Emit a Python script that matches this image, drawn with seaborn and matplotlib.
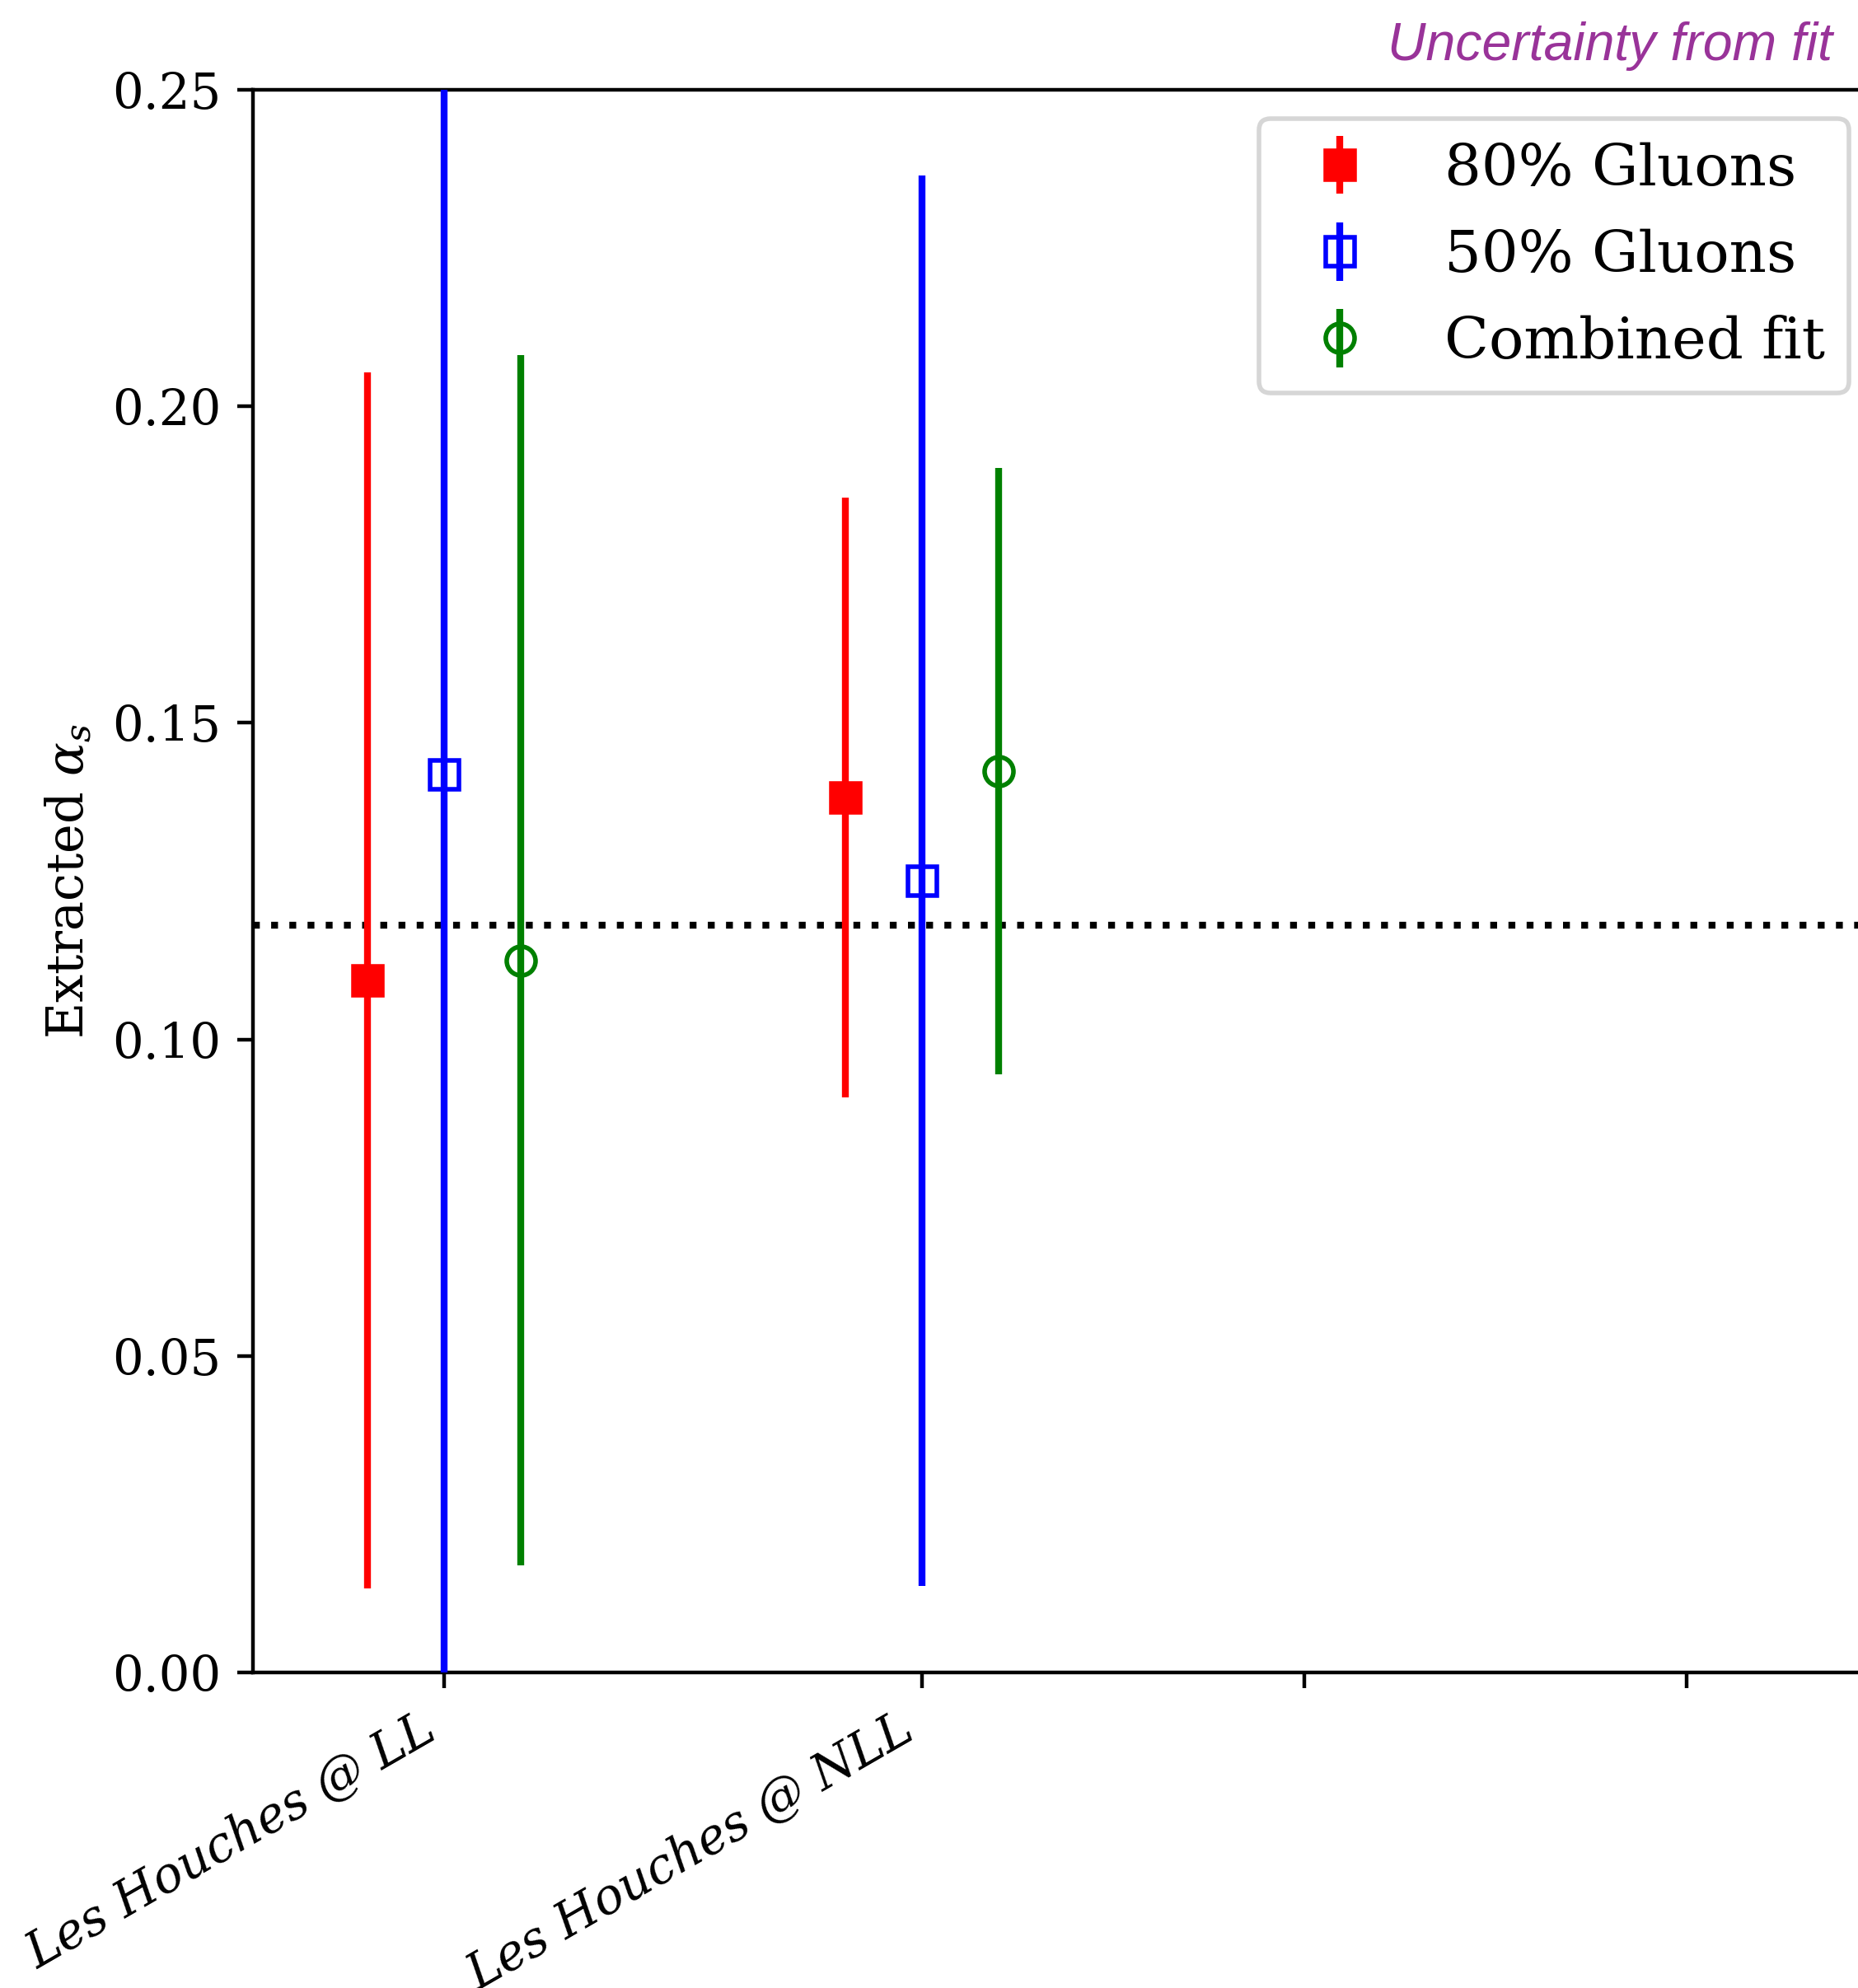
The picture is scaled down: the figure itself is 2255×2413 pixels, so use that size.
import matplotlib
matplotlib.use("Agg")
import matplotlib.pyplot as plt
import seaborn as sns
import numpy as np

# Extracted alpha_s per calculation, with fit uncertainties
categories = ["Les Houches @ LL", "Les Houches @ NLL"]
extra_ticks = ["", ""]

gluon80_val = [0.1093, 0.1382]
gluon80_err = [0.0960, 0.0474]

gluon50_val = [0.1419, 0.1251]
gluon50_err = [0.1600, 0.1114]

combined_val = [0.1125, 0.1424]
combined_err = [0.0956, 0.0479]

alpha_s_ref = 0.118

sns.set_theme(style="ticks")
plt.rcParams["font.family"] = ["DejaVu Serif"]
plt.rcParams["mathtext.fontset"] = "dejavuserif"
for key in ["axes.edgecolor", "xtick.color", "ytick.color", "text.color",
            "axes.labelcolor"]:
    plt.rcParams[key] = "black"

DPI = 400
fig = plt.figure(figsize=(2255 / DPI, 2413 / DPI), dpi=DPI)
ax = fig.add_axes([307 / 2255, 383 / 2413, 1972 / 2255, 1921 / 2413])

tick_pos = np.array([0.0, 1.25, 2.25, 3.25])
cat_pos = tick_pos[:len(categories)]
offset = 0.2

series = [
    ("80% Gluons", gluon80_val, gluon80_err, -offset, "s", "red", "red"),
    ("50% Gluons", gluon50_val, gluon50_err, 0.0, "s", "blue", "none"),
    ("Combined fit", combined_val, combined_err, offset, "o", "green", "none"),
]

for label, vals, errs, dx, marker, color, face in series:
    ax.errorbar(cat_pos + dx, vals, yerr=errs, fmt=marker, color=color,
                markerfacecolor=face, markeredgecolor=color,
                markersize=6.3, markeredgewidth=1.0, elinewidth=1.5,
                capsize=0, label=label, zorder=3)

ax.axhline(alpha_s_ref, color="black", linestyle=":", linewidth=1.5, zorder=2)

ax.set_xlim(-0.5, 3.75)
ax.set_ylim(0.0, 0.25)
yt = np.arange(0.0, 0.2501, 0.05)
ax.set_yticks(yt)
ax.set_yticklabels([f"{v:.2f}" for v in yt], fontsize=10.7)
ax.set_xticks(tick_pos)
ax.set_xticklabels(categories + extra_ticks, rotation=30, ha="right",
                   fontsize=10.7, style="italic")
ax.tick_params(axis="both", direction="out", length=3.5, width=0.8)
for sp in ax.spines.values():
    sp.set_linewidth(0.8)

ax.set_ylabel(r"Extracted $\alpha_s$", fontsize=10.9)

ax.legend(loc="upper right", fontsize=12.7, labelspacing=0.55)

fig.text(2224 / 2255, 1 - 73 / 2413, "Uncertainty from fit",
         ha="right", va="baseline", color="#993399", fontsize=11.6,
         style="italic", family=["Liberation Sans", "DejaVu Sans"])

fig.savefig("out.png", dpi=DPI)
